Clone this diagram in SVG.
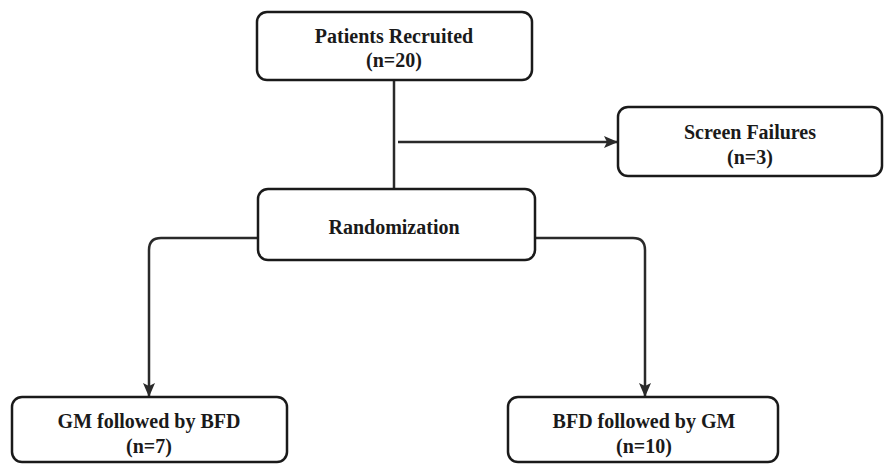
<svg xmlns="http://www.w3.org/2000/svg" width="886" height="464" viewBox="0 0 886 464">
<style>
.box{fill:#fff;stroke:#1a1a1a;stroke-width:2.5}
.ln{fill:none;stroke:#2a2a2a;stroke-width:2.5}
text{font-family:"Liberation Serif","Times New Roman",serif;font-weight:bold;font-size:20px;fill:#1a1a1a;text-anchor:middle}
</style>
<defs>
<marker id="ah" markerWidth="14" markerHeight="12" refX="13" refY="6" orient="auto" markerUnits="userSpaceOnUse" viewBox="0 0 14 12">
<path d="M0,0 L14,6 L0,12 L3,6 Z" fill="#2a2a2a"/>
</marker>
</defs>
<g id="connectors">
<path class="ln" d="M394,80 V189"/>
<path class="ln" d="M398,142 H617" marker-end="url(#ah)"/>
<path class="ln" d="M258,238 H161 Q149,238 149,250 V396" marker-end="url(#ah)"/>
<path class="ln" d="M535,238 H633 Q645,238 645,250 V396" marker-end="url(#ah)"/>
</g>
<g id="recruited">
<rect class="box" x="257" y="12" width="275" height="68" rx="10"/>
<text x="394" y="43">Patients Recruited</text>
<text x="394" y="67">(n=20)</text>
</g>
<g id="screen">
<rect class="box" x="618" y="107" width="264" height="69" rx="10"/>
<text x="750" y="139">Screen Failures</text>
<text x="750" y="164">(n=3)</text>
</g>
<g id="randomization">
<rect class="box" x="258" y="189" width="277" height="71" rx="10"/>
<text x="394" y="234">Randomization</text>
</g>
<g id="gm">
<rect class="box" x="12" y="397" width="275" height="65" rx="10"/>
<text x="149" y="428">GM followed by BFD</text>
<text x="149" y="453">(n=7)</text>
</g>
<g id="bfd">
<rect class="box" x="508" y="397" width="270" height="65" rx="10"/>
<text x="644" y="428">BFD followed by GM</text>
<text x="644" y="453">(n=10)</text>
</g>
</svg>
